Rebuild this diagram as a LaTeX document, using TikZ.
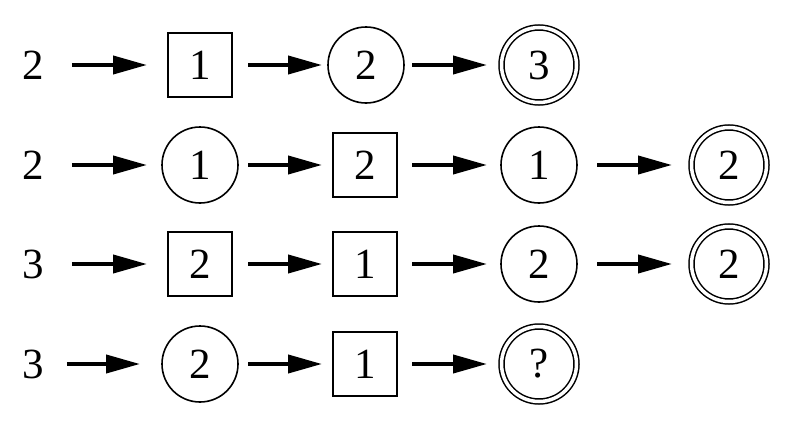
\documentclass[tikz,border=0pt]{standalone}
\usepackage{fontspec}
\setmainfont{Liberation Serif}
\usetikzlibrary{arrows.meta}
\tikzset{
  lbl/.style={inner sep=0pt, outer sep=0pt, minimum width=20pt, font=\fontsize{43}{43}\selectfont},
  sqbox/.style={draw, line width=1.6pt, inner sep=0pt, outer sep=0pt, minimum size=64pt, font=\fontsize{43}{43}\selectfont},
  circbox/.style={draw, circle, line width=1.6pt, inner sep=0pt, outer sep=0pt, minimum size=76pt, font=\fontsize{43}{43}\selectfont},
  dblbox/.style={draw, circle, line width=1.5pt, double, double distance=3.5pt, inner sep=0pt, outer sep=0pt, minimum size=75pt, font=\fontsize{43}{43}\selectfont},
  arr/.style 2 args={-{Triangle[length=34pt,width=18pt]}, line width=4pt, shorten <=#1pt, shorten >=#2pt}
}
\begin{document}
\begin{tikzpicture}[x=1pt,y=-1pt]
\useasboundingbox (0,0) rectangle (800,439);
% Row 1
\node[lbl] (l1) at (33,65) {2};
\node[sqbox] (r1a) at (200,65) {1};
\node[circbox] (r1b) at (366,65) {2};
\node[dblbox] (r1c) at (539,65) {3};
\draw[arr={28}{21}] (l1) -- (r1a);
\draw[arr={16}{6}] (r1a) -- (r1b);
\draw[arr={8}{14.5}] (r1b) -- (r1c);
% Row 2
\node[lbl] (l2) at (33,165) {2};
\node[circbox] (r2a) at (200,165) {1};
\node[sqbox] (r2b) at (365,165) {2};
\node[circbox] (r2c) at (539,165) {1};
\node[dblbox] (r2d) at (729,165) {2};
\draw[arr={28}{15}] (l2) -- (r2a);
\draw[arr={10}{11}] (r2a) -- (r2b);
\draw[arr={15}{14}] (r2b) -- (r2c);
\draw[arr={20}{19.5}] (r2c) -- (r2d);
% Row 3
\node[lbl] (l3) at (33,264) {3};
\node[sqbox] (r3a) at (200,264) {2};
\node[sqbox] (r3b) at (365,264) {1};
\node[circbox] (r3c) at (539,264) {2};
\node[dblbox] (r3d) at (729,264) {2};
\draw[arr={28}{21}] (l3) -- (r3a);
\draw[arr={16}{11}] (r3a) -- (r3b);
\draw[arr={15}{14}] (r3b) -- (r3c);
\draw[arr={20}{19.5}] (r3c) -- (r3d);
% Row 4
\node[lbl] (l4) at (33,364) {3};
\node[circbox] (r4a) at (200,364) {2};
\node[sqbox] (r4b) at (365,364) {1};
\node[dblbox] (r4c) at (539,364) {?};
\draw[arr={23}{22}] (l4) -- (r4a);
\draw[arr={10}{11}] (r4a) -- (r4b);
\draw[arr={15}{14.5}] (r4b) -- (r4c);
\end{tikzpicture}
\end{document}
